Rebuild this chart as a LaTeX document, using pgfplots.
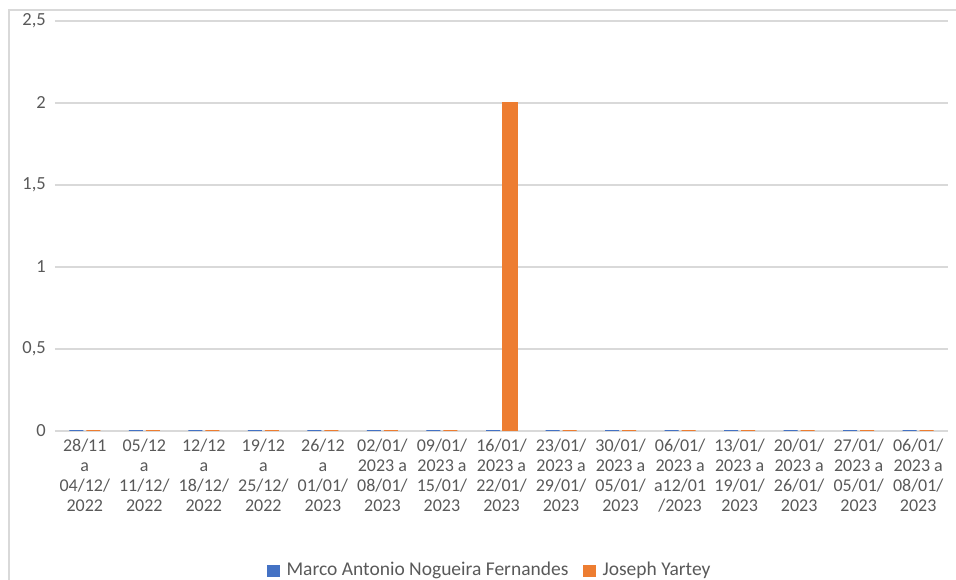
\documentclass[border=0pt]{standalone}
\usepackage{pgfplots}
\pgfplotsset{compat=1.18}
\usepackage{fontspec}
\setmainfont{Carlito}
\definecolor{mblue}{HTML}{4472C4}
\definecolor{morange}{HTML}{ED7D31}
\definecolor{gridc}{HTML}{D9D9D9}
\definecolor{txtc}{HTML}{595959}
\begin{document}
\fontsize{18bp}{20bp}\selectfont
\begin{tikzpicture}
\useasboundingbox (0,0) rectangle (956bp,580bp);
\draw[gridc, line width=1.2bp] (9bp,0) -- (9bp,570bp) -- (956bp,570bp);
\begin{axis}[
    at={(55bp,149bp)}, anchor=south west,
    scale only axis,
    width=893bp, height=410bp,
    xmin=-0.5, xmax=14.5,
    ymin=0, ymax=2.5,
    ytick={0,0.5,1,1.5,2,2.5},
    xtick={0,...,14},
    xticklabels={
        {28/11\\a\\04/12/\\2022},
        {05/12\\a\\11/12/\\2022},
        {12/12\\a\\18/12/\\2022},
        {19/12\\a\\25/12/\\2022},
        {26/12\\a\\01/01/\\2023},
        {02/01/\\2023 a\\08/01/\\2023},
        {09/01/\\2023 a\\15/01/\\2023},
        {16/01/\\2023 a\\22/01/\\2023},
        {23/01/\\2023 a\\29/01/\\2023},
        {30/01/\\2023 a\\05/01/\\2023},
        {06/01/\\2023 a\\a12/01\\/2023},
        {13/01/\\2023 a\\19/01/\\2023},
        {20/01/\\2023 a\\26/01/\\2023},
        {27/01/\\2023 a\\05/01/\\2023},
        {06/01/\\2023 a\\08/01/\\2023}},
    x tick label style={align=center, font=\fontsize{18bp}{20bp}\selectfont, text=txtc, inner sep=1bp, yshift=-7bp},
    y tick label style={font=\fontsize{18.5bp}{20bp}\selectfont, text=txtc, xshift=-3bp},
    /pgf/number format/assume math mode=true,
    /pgf/number format/use comma,
    yticklabel style={/pgf/number format/fixed},
    major tick length=0pt,
    ymajorgrids,
    major grid style={gridc, line width=1.2bp},
    axis line style={draw=none},
    ybar=3bp,
    bar width=14bp,
    legend style={at={(0.487,-0.34)}, anchor=center, draw=none, fill=none,
        legend columns=2, font=\fontsize{19.5bp}{21bp}\selectfont, text=txtc,
        /tikz/every even column/.append style={column sep=13bp}},
    legend image code/.code={\fill[#1] (0bp,-6bp) rectangle (11bp,5bp); \path (16bp,0bp);},
]
\addplot[fill=mblue, draw=mblue, line width=1.2bp] coordinates {
    (0,0) (1,0) (2,0) (3,0) (4,0) (5,0) (6,0) (7,0)
    (8,0) (9,0) (10,0) (11,0) (12,0) (13,0) (14,0)};
\addplot[fill=morange, draw=morange, line width=1.2bp] coordinates {
    (0,0) (1,0) (2,0) (3,0) (4,0) (5,0) (6,0) (7,2)
    (8,0) (9,0) (10,0) (11,0) (12,0) (13,0) (14,0)};
\legend{Marco Antonio Nogueira Fernandes, Joseph Yartey}
\end{axis}
\end{tikzpicture}
\end{document}
